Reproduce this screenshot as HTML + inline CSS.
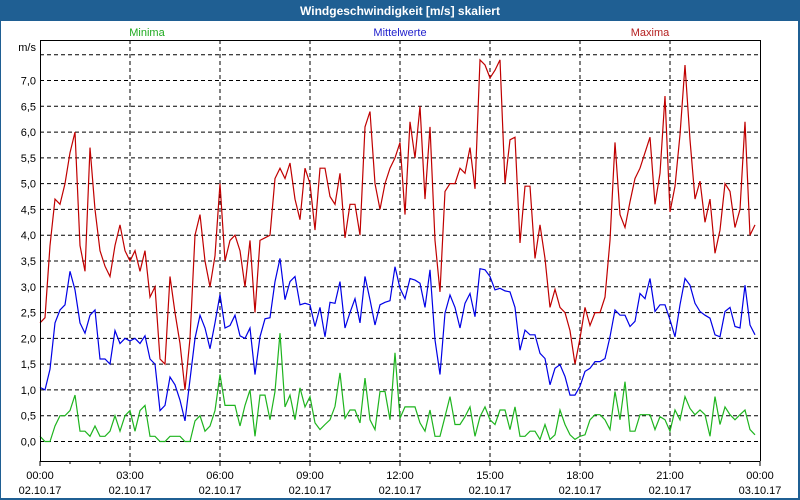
<!DOCTYPE html>
<html><head><meta charset="utf-8"><style>
body{margin:0;background:#fff;}
svg{display:block;font-family:"Liberation Sans","DejaVu Sans",sans-serif;}
</style></head><body>
<svg width="800" height="500" viewBox="0 0 800 500">
<rect x="0" y="0" width="800" height="500" fill="#1f5f93"/>
<rect x="1" y="21" width="797" height="477" fill="#fff"/>
<text x="400" y="15" fill="#fff" font-size="12" font-weight="bold" text-anchor="middle">Windgeschwindigkeit [m/s] skaliert</text>
<text x="147" y="36" fill="#1eaa1e" font-size="11" text-anchor="middle">Minima</text>
<text x="400" y="36" fill="#1e1ecc" font-size="11" text-anchor="middle">Mittelwerte</text>
<text x="650" y="36" fill="#b41e1e" font-size="11" text-anchor="middle">Maxima</text>
<text x="36" y="51" font-size="11" text-anchor="end">m/s</text>
<g id="grid"></g>
<g id="series"></g>
<g id="axes"></g>
</svg>
<script>
const yTicks = [0,0.5,1,1.5,2,2.5,3,3.5,4,4.5,5,5.5,6,6.5,7,7.5];
const xTickHours = [0,3,6,9,12,15,18,21,24];
const xTimeLabels = ["00:00","03:00","06:00","09:00","12:00","15:00","18:00","21:00","00:00"];
const xDateLabels = ["02.10.17","02.10.17","02.10.17","02.10.17","02.10.17","02.10.17","02.10.17","02.10.17","03.10.17"];
const maxima = [2.3,2.4,3.8,4.7,4.6,5.0,5.6,6.0,3.8,3.3,5.7,4.5,3.7,3.4,3.2,3.8,4.2,3.7,3.5,3.7,3.3,3.7,2.8,3.0,1.6,1.5,3.2,2.5,1.9,1.0,2.0,4.0,4.4,3.5,3.0,3.6,5.0,3.5,3.9,4.0,3.7,3.0,3.9,2.5,
3.9,3.95,4.0,5.1,5.3,5.1,5.4,4.7,4.3,5.3,5.0,4.1,5.3,5.3,4.75,4.6,5.2,3.95,4.6,4.6,4.0,6.1,6.4,5.0,4.5,5.0,5.3,5.5,5.8,4.4,6.2,5.5,6.5,4.7,6.1,3.9,2.9,4.85,5.0,5.0,5.3,5.2,5.7,4.9,7.4,7.3,7.05,7.2,7.4,
5.0,5.85,5.9,3.85,4.95,4.95,3.55,4.2,3.55,2.6,2.95,2.6,2.5,2.15,1.5,2.0,2.6,2.25,2.5,2.5,2.8,3.9,5.8,4.4,4.15,4.65,5.1,5.3,5.6,5.9,4.6,5.2,6.7,4.45,4.95,5.95,7.3,5.85,4.7,5.05,4.25,4.7,3.65,4.1,5.0,4.85,4.15,4.5,6.2,4.0,4.2];
const mittelwerte = [1.05,1.0,1.4,2.3,2.55,2.65,3.3,2.94,2.3,2.1,2.45,2.55,1.6,1.6,1.5,2.15,1.9,2.0,1.95,2.0,1.9,2.05,1.6,1.5,0.6,0.7,1.25,1.1,0.8,0.4,1.2,2.0,2.45,2.2,1.8,2.3,2.85,2.2,2.25,2.45,2.05,2.0,2.2,1.3,
2.03,2.38,2.4,3.1,3.55,2.75,3.1,3.2,2.65,2.68,2.65,2.23,2.6,2.03,2.7,2.68,3.1,2.2,2.5,2.77,2.3,3.2,2.75,2.26,2.65,2.7,2.73,3.39,2.97,2.77,3.16,3.13,3.07,2.6,3.33,1.97,1.3,2.49,2.84,2.6,2.2,2.68,2.87,2.42,3.35,3.33,3.2,2.94,2.97,
2.92,2.9,2.6,1.77,2.16,2.07,2.07,1.71,1.61,1.1,1.42,1.49,1.26,0.9,0.9,1.07,1.36,1.42,1.55,1.55,1.61,2.03,2.55,2.45,2.45,2.23,2.33,2.87,2.77,3.16,2.52,2.65,2.65,2.36,2.03,2.65,3.16,3.03,2.68,2.52,2.45,2.39,2.07,2.03,2.52,2.6,2.23,2.2,3.03,2.26,2.07];
const minima = [0.1,0.0,0.0,0.3,0.5,0.5,0.6,0.9,0.2,0.2,0.1,0.3,0.1,0.1,0.2,0.5,0.2,0.5,0.6,0.2,0.6,0.7,0.1,0.1,0.0,0.0,0.1,0.1,0.1,0.0,0.0,0.4,0.5,0.2,0.3,0.6,1.3,0.7,0.7,0.7,0.3,0.7,1.0,0.1,
0.9,0.9,0.42,0.97,2.1,0.67,0.9,0.42,1.04,0.67,0.87,0.36,0.23,0.33,0.42,0.68,1.33,0.45,0.61,0.61,0.36,1.23,0.42,0.23,0.97,0.97,0.42,1.72,0.45,0.67,0.67,0.67,0.36,0.2,0.61,0.1,0.1,0.48,0.87,0.33,0.33,0.48,0.67,0.1,0.48,0.67,0.42,0.33,0.61,
0.61,0.23,0.67,0.1,0.1,0.2,0.2,0.04,0.33,0.04,0.13,0.61,0.33,0.13,0.04,0.1,0.13,0.42,0.52,0.52,0.42,0.23,0.97,0.42,1.16,0.2,0.2,0.52,0.52,0.52,0.23,0.48,0.42,0.2,0.61,0.42,0.87,0.64,0.52,0.61,0.52,0.1,0.87,0.33,0.67,0.52,0.42,0.52,0.61,0.23,0.13];

const NS = "http://www.w3.org/2000/svg";
const X0 = 40, X1 = 760, Y0 = 441.5, PXU = 51.57, TOP = 40, BOT = 461;
function xHour(h){ return X0 + h * (X1 - X0) / 24; }
function xIdx(i){ return xHour(i / 6); }
function yVal(v){ return Y0 - v * PXU; }
function mk(tag, attrs, parent){
  const e = document.createElementNS(NS, tag);
  for (const k in attrs) e.setAttribute(k, attrs[k]);
  parent.appendChild(e);
  return e;
}
const grid = document.getElementById('grid');
const axes = document.getElementById('axes');
const series = document.getElementById('series');
yTicks.forEach(v => {
  const l = mk('line', {x1: X0, x2: X1, y1: yVal(v), y2: yVal(v), stroke: '#000', 'stroke-width': 1, 'stroke-dasharray': '4,3'}, grid);
  
  
  if (v < 7.5) {
    const t = mk('text', {x: 36, y: yVal(v) + 4, 'font-size': 11, 'text-anchor': 'end'}, axes);
    t.textContent = v.toFixed(1).replace('.', ',');
    
    
  }
});
xTickHours.forEach((h, i) => {
  const x = xHour(h);
  if (h > 0 && h < 24) {
    const l = mk('line', {x1: x, x2: x, y1: TOP, y2: BOT, stroke: '#000', 'stroke-width': 1, 'stroke-dasharray': '4,3'}, grid);
    
    
  }
  const t1 = mk('text', {x: x, y: 479, 'font-size': 11, 'text-anchor': 'middle'}, axes);
  t1.textContent = xTimeLabels[i];
  
  
  const t2 = mk('text', {x: x, y: 494, 'font-size': 11, 'text-anchor': 'middle'}, axes);
  t2.textContent = xDateLabels[i];
  
  
});
for (let h = 0; h <= 24; h++) {
  const x = xHour(h);
  const tk = mk('line', {x1: x, x2: x, y1: BOT, y2: BOT + (h % 3 === 0 ? 5 : 3), stroke: '#000'}, axes);
  
  
}
const frame = mk('path', {d: `M${X0+0.5},${TOP} V${BOT+0.5} H${X1+0.5} M${X0},${TOP+0.5} H${X1+0.5} V${BOT}`, stroke: '#000', fill: 'none'}, axes);


function drawSeries(arr, color, name){
  const pts = arr.map((v, i) => xIdx(i).toFixed(1) + ',' + yVal(v).toFixed(1)).join(' ');
  const p = mk('polyline', {points: pts, fill: 'none', stroke: color, 'stroke-width': 1.2}, series);
  
  
}
drawSeries(minima, '#1eb41e', 'minima-line');
drawSeries(mittelwerte, '#0000e6', 'mittelwerte-line');
drawSeries(maxima, '#c00000', 'maxima-line');
</script>
</body></html>
